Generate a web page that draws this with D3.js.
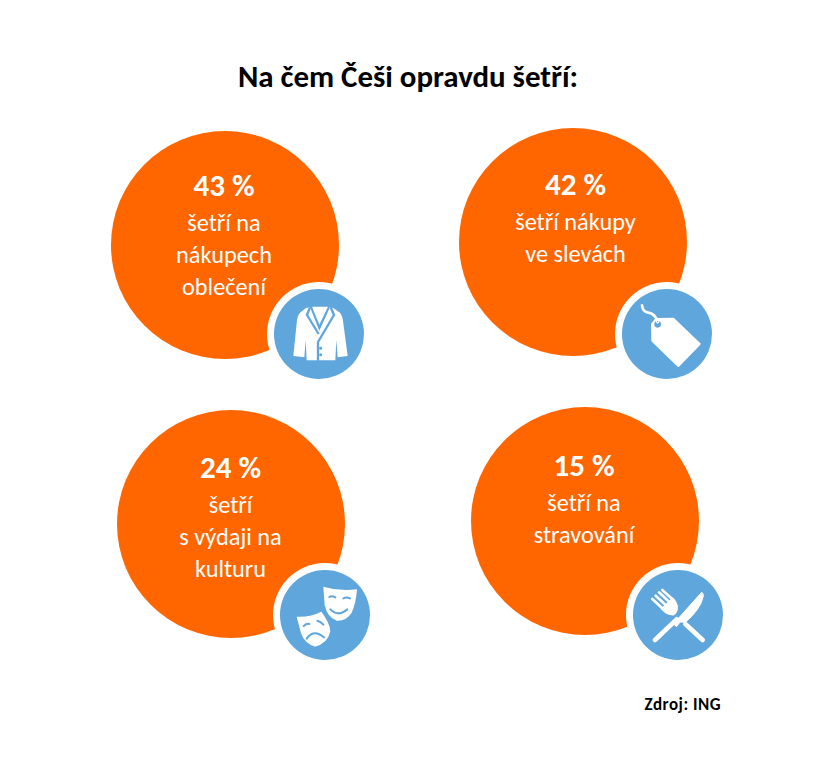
<!DOCTYPE html>
<html>
<head>
<meta charset="utf-8">
<script src="https://cdn.jsdelivr.net/npm/d3@7"></script>
<style>
  html, body { margin: 0; padding: 0; background: #fff; }
  text { font-family: Carlito, Lato, "Open Sans", sans-serif; }
</style>
</head>
<body>
<div id="chart"></div>
<script>
const titleText = "Na čem Češi opravdu šetří:";
const sourceText = "Zdroj: ING";

const percents = [43, 42, 24, 15];
const captions = [
    ["šetří na", "nákupech", "oblečení"],
    ["šetří nákupy", "ve slevách"],
    ["šetří", "s výdaji na", "kulturu"],
    ["šetří na", "stravování"]
];
const icons = ["jacket", "tag", "masks", "cutlery"];

const ORANGE = "#ff6600";
const BLUE = "#5fa6dd";

const width = 838, height = 773;

// rucne docteny rozvrh, kruhy nejsou v presne mrizce
const circleCentres = [[225, 245], [573, 242], [231, 524], [585, 521]];
const badgeCentres = [[319, 334], [667, 334], [325, 615], [678, 615]];
const textAnchors = [[224, 196], [575.5, 195], [230.5, 478], [584, 476]];
// stred kazde ikony v jejim kreslicim ramecku, meritko 1/3
const iconOrigins = [[177, 162], [171, 162], [165, 165], [174, 165]];
const R = 114, BADGE_R = 45, RING_R = 52;

const svg = d3.select("#chart").append("svg")
    .attr("width", width)
    .attr("height", height)
    .style("display", "block");

svg.append("text")
    .attr("x", 408).attr("y", 87)
    .attr("text-anchor", "middle")
    .attr("font-size", 30.9)
    .attr("font-weight", 700)
    .attr("fill", "#000")
    .text(titleText);

const drawIcon = {
    jacket: g => {
        g.append("path").attr("fill", "#fff")
            .attr("d", "M138,84 L160,80 L202,80 L220,84 L240,98 Q248,108 250,130 L263,228 L233,232 L229,180 L226,241 L140,241 L137,180 L133,232 L100,228 L110,130 Q111,108 120,98 Z");
        g.append("path").attr("fill", "none").attr("stroke", BLUE).attr("stroke-width", 7)
            .attr("d", "M150,82 L141,105 L176,162 M212,82 L222,105 L174,186 L174,242");
        g.append("path").attr("fill", BLUE).attr("d", "M156,80 L178,134 L204,80 L210,82 L178,152 L150,82 Z");
        g.selectAll("circle.btn").data([205, 224]).enter().append("circle")
            .attr("class", "btn").attr("cx", 182).attr("cy", d => d).attr("r", 4.5).attr("fill", BLUE);
    },
    tag: g => {
        g.append("path").attr("fill", "none").attr("stroke", "#fff").attr("stroke-width", 8).attr("stroke-linecap", "round")
            .attr("d", "M96,76 Q98,95 115,98 Q135,101 143,125");
        g.append("path").attr("fill", "#fff").attr("stroke", "#fff").attr("stroke-width", 6).attr("stroke-linejoin", "round")
            .attr("d", "M126,132 L138,117 L190,116 L269,192 L205,258 L127,182 Z");
        g.append("circle").attr("cx", 143).attr("cy", 133).attr("r", 10).attr("fill", BLUE);
        g.append("path").attr("fill", "none").attr("stroke", "#fff").attr("stroke-width", 4)
            .attr("d", "M139,123 Q143,135 147,123");
    },
    masks: g => {
        g.append("path").attr("fill", "#fff")
            .attr("d", "M160,80 Q210,95 261,88 Q258,130 245,158 Q228,184 200,182 Q172,172 164,135 Z");
        g.append("path").attr("fill", "none").attr("stroke", BLUE).attr("stroke-width", 6).attr("stroke-linecap", "round")
            .attr("d", "M181,148 Q205,172 232,148 M178,111 Q186,106 196,112 M220,115 Q230,110 240,115");
        g.append("path").attr("fill", "#fff").attr("stroke", BLUE).attr("stroke-width", 6)
            .attr("d", "M76,167 Q120,170 155,151 Q184,190 184,214 Q176,252 135,263 Q100,252 90,220 Z");
        g.append("path").attr("fill", "none").attr("stroke", BLUE).attr("stroke-width", 6).attr("stroke-linecap", "round")
            .attr("d", "M110,236 Q130,205 162,232 M101,198 Q110,190 118,192 M142,182 Q152,184 160,194");
    },
    cutlery: g => {
        g.append("path").attr("fill", "none").attr("stroke", "#fff").attr("stroke-width", 14).attr("stroke-linecap", "round")
            .attr("d", "M105,240 L170,178 M196,192 L248,240");
        // cepel noze
        g.append("path").attr("fill", "#fff").attr("stroke", "#fff").attr("stroke-width", 3).attr("stroke-linejoin", "round")
            .attr("d", "M160,192 L245,97 Q252,100 249,112 Q240,150 196,187 L180,186 L170,200 Z");
        // vidlicka: ctyri zuby a hlava
        g.append("path").attr("fill", "none").attr("stroke", "#fff").attr("stroke-width", 8).attr("stroke-linecap", "round")
            .attr("d", "M97,117 L130,148 M107,107 L140,138 M117,97 L150,128 M127,90 L160,120");
        g.append("path").attr("fill", "#fff")
            .attr("d", "M122,146 L158,112 Q172,125 174,142 Q174,158 162,166 Q140,168 122,146 Z");
    }
};

const panels = svg.selectAll("g.panel")
    .data(percents.map((p, i) => ({
        p, lines: captions[i], icon: icons[i],
        c: circleCentres[i], b: badgeCentres[i], t: textAnchors[i], o: iconOrigins[i]
    })))
    .enter().append("g")
    .attr("class", "panel");

panels.append("circle")
    .attr("cx", d => d.c[0]).attr("cy", d => d.c[1])
    .attr("r", R).attr("fill", ORANGE);

panels.append("text")
    .attr("x", d => d.t[0]).attr("y", d => d.t[1])
    .attr("text-anchor", "middle")
    .attr("font-size", 31)
    .attr("font-weight", 700)
    .attr("fill", "#fff")
    .text(d => `${d.p} %`);

panels.each(function (d) {
    const g = d3.select(this);
    g.selectAll("text.line").data(d.lines).enter().append("text")
        .attr("class", "line")
        .attr("x", d.t[0])
        .attr("y", (l, i) => d.t[1] + 35 + i * 32)
        .attr("text-anchor", "middle")
        .attr("font-size", 24.3)
        .attr("fill", "#fff")
        .text(l => l);

    const badge = g.append("g").attr("transform", `translate(${d.b[0]},${d.b[1]})`);
    badge.append("circle").attr("r", RING_R).attr("fill", "#fff");
    badge.append("circle").attr("r", BADGE_R).attr("fill", BLUE);
    const icon = badge.append("g").attr("transform", `scale(0.3333) translate(${-d.o[0]},${-d.o[1]})`);
    drawIcon[d.icon](icon);
});

svg.append("text")
    .attr("x", 721).attr("y", 710)
    .attr("text-anchor", "end")
    .attr("font-size", 17)
    .attr("font-weight", 700)
    .attr("letter-spacing", 0.5)
    .attr("fill", "#000")
    .text(sourceText);
</script>
</body>
</html>
